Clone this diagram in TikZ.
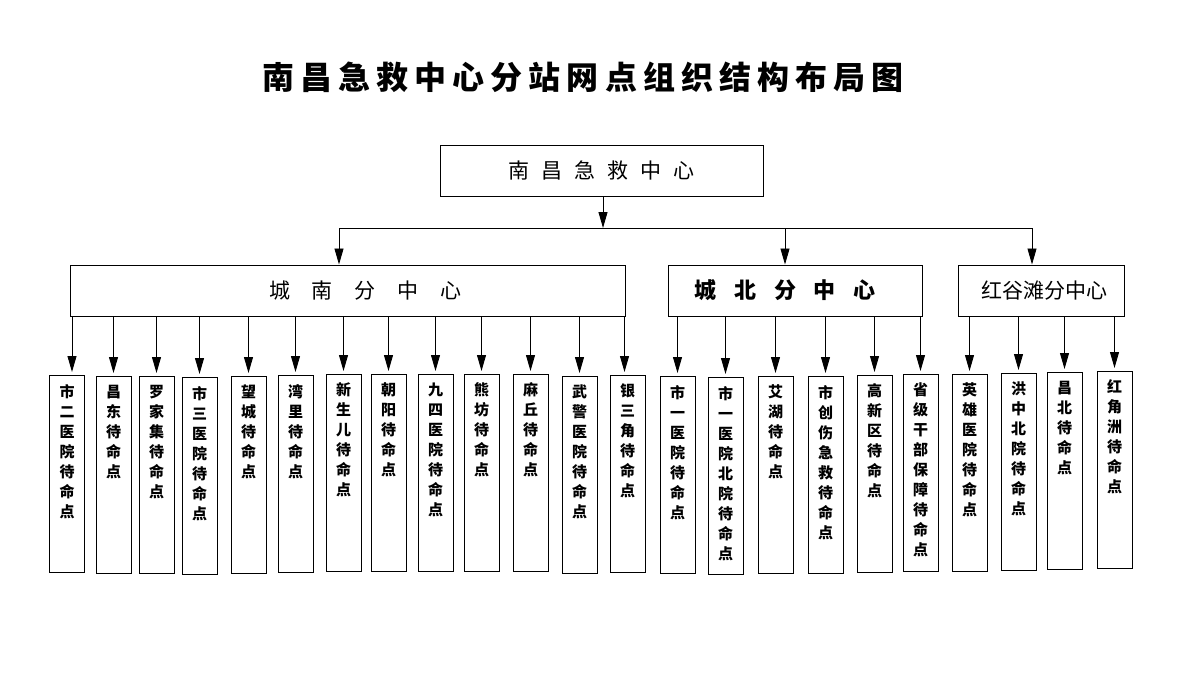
\documentclass[tikz,border=0pt]{standalone}
\usepackage{fontspec}
\setmainfont{Noto Sans CJK SC}
\newfontfamily\titlefont{Noto Sans CJK SC}[LetterSpace=19]
\usetikzlibrary{arrows.meta}

\newcommand{\vlist}[1]{\parbox[t][180pt][t]{20pt}{\centering #1}}

\tikzset{
  box/.style={draw, line width=1pt, minimum height=51pt, inner sep=0pt},
  leaf/.style={draw, line width=1pt, anchor=north, minimum width=35pt,
    minimum height=197pt, inner xsep=0pt, inner ysep=8pt,
    font=\bfseries\fontsize{15}{20}\selectfont},
  arr/.style={-{Triangle[length=16pt,width=9pt]}, line width=0.9pt},
}

\begin{document}
\begin{tikzpicture}[x=1pt,y=-1pt]
\useasboundingbox (0,0) rectangle (1190,695);

% title
\node[font=\titlefont\bfseries\fontsize{32}{32}\selectfont] (title) at (583,77) {南昌急救中心分站网点组织结构布局图};

% centre and sub centres
\node[box, minimum width=323pt, font=\fontsize{21}{21}\selectfont] (hq) at (601.5,171)
  {南\hspace{12pt}昌\hspace{12pt}急\hspace{12pt}救\hspace{12pt}中\hspace{12pt}心};
\node[box, minimum width=555pt, font=\fontsize{21}{21}\selectfont] (cs) at (347.5,290.5)
  {\hspace*{36pt}城\hspace{22pt}南\hspace{22pt}分\hspace{22pt}中\hspace{22pt}心};
\node[box, minimum width=254pt, font=\bfseries\fontsize{22}{22}\selectfont] (cn) at (795,290.5)
  {城\hspace{18pt}北\hspace{18pt}分\hspace{18pt}中\hspace{18pt}心\hspace*{20pt}};
\node[box, minimum width=166pt, font=\fontsize{21}{21}\selectfont] (hgt) at (1041,290.5)
  {\hspace*{6pt}红谷滩分中心};

\coordinate (bc) at (603,228);
\coordinate (bl) at (339,228);
\coordinate (bm) at (785,228);
\coordinate (br) at (1032,228);
\draw[arr] (bc |- hq.south) -- (bc);
\draw[line width=0.9pt] (bl) -- (br);
\draw[arr] (bl) -- (bl |- cs.north);
\draw[arr] (bm) -- (bm |- cn.north);
\draw[arr] (br) -- (br |- hgt.north);

% stand-by points, south
\node[leaf] (s1) at (67,375) {\vlist{市\\二\\医\\院\\待\\命\\点}};
\node[leaf] (s2) at (113.5,376) {\vlist{昌\\东\\待\\命\\点}};
\node[leaf] (s3) at (156.5,376) {\vlist{罗\\家\\集\\待\\命\\点}};
\node[leaf] (s4) at (199.5,377) {\vlist{市\\三\\医\\院\\待\\命\\点}};
\node[leaf] (s5) at (248.5,376) {\vlist{望\\城\\待\\命\\点}};
\node[leaf] (s6) at (295.5,375) {\vlist{湾\\里\\待\\命\\点}};
\node[leaf] (s7) at (343.5,374) {\vlist{新\\生\\儿\\待\\命\\点}};
\node[leaf] (s8) at (388.5,374) {\vlist{朝\\阳\\待\\命\\点}};
\node[leaf] (s9) at (435.5,374) {\vlist{九\\四\\医\\院\\待\\命\\点}};
\node[leaf] (s10) at (481.5,374) {\vlist{熊\\坊\\待\\命\\点}};
\node[leaf] (s11) at (530.5,374) {\vlist{麻\\丘\\待\\命\\点}};
\node[leaf] (s12) at (579.5,376) {\vlist{武\\警\\医\\院\\待\\命\\点}};
\node[leaf] (s13) at (627.5,375) {\vlist{银\\三\\角\\待\\命\\点}};

% stand-by points, north
\node[leaf] (n1) at (677.5,376) {\vlist{市\\一\\医\\院\\待\\命\\点}};
\node[leaf] (n2) at (725.5,377) {\vlist{市\\一\\医\\院\\北\\院\\待\\命\\点}};
\node[leaf] (n3) at (775.5,376) {\vlist{艾\\湖\\待\\命\\点}};
\node[leaf] (n4) at (825.5,376) {\vlist{市\\创\\伤\\急\\救\\待\\命\\点}};
\node[leaf] (n5) at (874.5,375) {\vlist{高\\新\\区\\待\\命\\点}};
\node[leaf] (n6) at (920.5,374) {\vlist{省\\级\\干\\部\\保\\障\\待\\命\\点}};

% stand-by points, honggutan
\node[leaf] (h1) at (969.5,374) {\vlist{英\\雄\\医\\院\\待\\命\\点}};
\node[leaf] (h2) at (1018.5,373) {\vlist{洪\\中\\北\\院\\待\\命\\点}};
\node[leaf] (h3) at (1064.5,372) {\vlist{昌\\北\\待\\命\\点}};
\node[leaf] (h4) at (1114.5,371) {\vlist{红\\角\\洲\\待\\命\\点}};

% arrows down to the points
\draw[arr, shorten >=3pt] (cs.south -| s1.north) ++(5,0) -- ([xshift=5pt]s1.north);
\foreach \p in {s2,s3,s4,s5,s6,s7,s8,s9,s10,s11,s12}
  \draw[arr, shorten >=3pt] (cs.south -| \p.north) -- (\p.north);
\draw[arr, shorten >=3pt] ([xshift=-3pt]cs.south -| s13.north) -- ([xshift=-3pt]s13.north);
\foreach \p in {n1,n2,n3,n4,n5,n6}
  \draw[arr, shorten >=3pt] (cn.south -| \p.north) -- (\p.north);
\foreach \p in {h1,h2,h3,h4}
  \draw[arr, shorten >=3pt] (hgt.south -| \p.north) -- (\p.north);
\end{tikzpicture}
\end{document}
